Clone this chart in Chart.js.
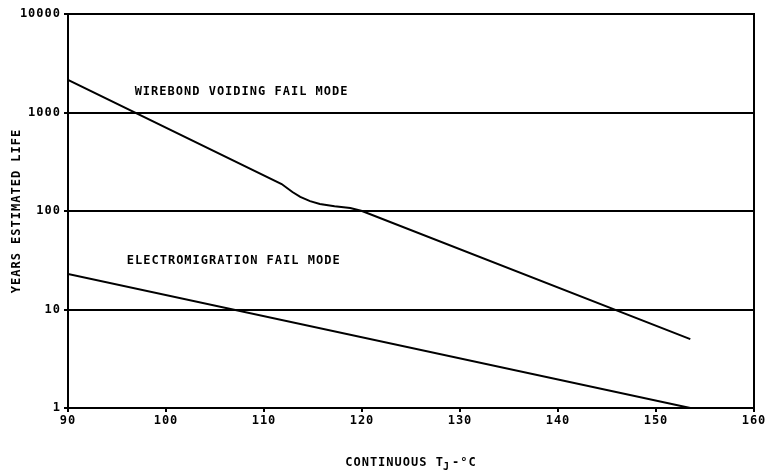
<!DOCTYPE html>
<html>
<head>
<meta charset="utf-8">
<script src="https://cdn.jsdelivr.net/npm/chart.js@4.4.1/dist/chart.umd.min.js"></script>
<style>
  html, body { margin: 0; padding: 0; background: #fff; }
  #wrap { width: 769px; height: 474px; }
</style>
</head>
<body>
<div id="wrap"><canvas id="lifeChart"></canvas></div>
<script>
// values
const wirebondTemp = [90, 111.8, 112.9, 113.7, 114.7, 115.7, 117.2, 118.8, 120, 153.5];
const wirebondYears = [2140, 188, 156, 139, 126, 118, 112, 107, 100, 5];
const emTemp = [90, 153.5];
const emYears = [22.9, 1];

const yTicks = [1, 10, 100, 1000, 10000];
const xTicks = [90, 100, 110, 120, 130, 140, 150, 160];

const noteTexts = ['WIREBOND VOIDING FAIL MODE', 'ELECTROMIGRATION FAIL MODE'];
const noteX = [96.8, 96.0];
const noteY = [1615, 31];

const xTitle = ['CONTINUOUS T', 'J', '-°C'];
const yTitle = 'YEARS ESTIMATED LIFE';

const FONT = 'bold 12px "DejaVu Sans Mono"';

function toPoints(xs, ys) {
    return xs.map((x, i) => ({ x: x, y: ys[i] }));
}

const extras = {
    id: 'extras',
    beforeDraw(chart) {
        chart.ctx.letterSpacing = '1px';
    },
    afterDraw(chart) {
        const ctx = chart.ctx;
        const area = chart.chartArea;
        const xs = chart.scales.x;
        const ys = chart.scales.y;
        ctx.save();
        ctx.letterSpacing = '1px';
        ctx.strokeStyle = '#000';
        ctx.lineWidth = 2;
        ctx.strokeRect(area.left, area.top, area.right - area.left, area.bottom - area.top);

        ctx.fillStyle = '#000';
        ctx.font = FONT;
        ctx.textBaseline = 'middle';
        ctx.textAlign = 'left';
        noteTexts.forEach((t, i) => {
            ctx.fillText(t, xs.getPixelForValue(noteX[i]), ys.getPixelForValue(noteY[i]));
        });

        // x title with subscript J
        const w0 = ctx.measureText(xTitle[0]).width;
        const w1 = ctx.measureText(xTitle[1]).width;
        const w2 = ctx.measureText(xTitle[2]).width;
        let x = (area.left + area.right) / 2 - (w0 + w1 + w2) / 2;
        const y = 463;
        ctx.fillText(xTitle[0], x, y);
        x += w0;
        ctx.font = 'bold 10px "DejaVu Sans Mono"';
        ctx.fillText(xTitle[1], x - 1, y + 4);
        ctx.font = FONT;
        x += w1;
        ctx.fillText(xTitle[2], x, y);

        // y title
        ctx.translate(17, (area.top + area.bottom) / 2);
        ctx.rotate(-Math.PI / 2);
        ctx.textAlign = 'center';
        ctx.fillText(yTitle, 0, 0);
        ctx.restore();
    }
};

new Chart(document.getElementById('lifeChart'), {
    type: 'line',
    data: {
        datasets: [
            {
                label: 'Wirebond voiding',
                data: toPoints(wirebondTemp, wirebondYears),
                borderColor: '#000',
                borderWidth: 2,
                pointRadius: 0,
                tension: 0
            },
            {
                label: 'Electromigration',
                data: toPoints(emTemp, emYears),
                borderColor: '#000',
                borderWidth: 2,
                pointRadius: 0,
                tension: 0
            }
        ]
    },
    options: {
        responsive: true,
        maintainAspectRatio: false,
        animation: false,
        layout: { padding: { top: 14, right: 15, left: 0, bottom: 0 } },
        plugins: {
            legend: { display: false },
            tooltip: { enabled: false }
        },
        scales: {
            x: {
                type: 'linear',
                min: 90,
                max: 160,
                afterBuildTicks: (s) => { s.ticks = xTicks.map(v => ({ value: v })); },
                afterFit: (s) => { s.height = 66; },
                grid: { drawOnChartArea: false, color: '#000', lineWidth: 2, tickLength: 4 },
                border: { color: '#000', width: 2 },
                ticks: { color: '#000', font: { family: 'DejaVu Sans Mono', size: 12, weight: 'bold' }, padding: 2, maxRotation: 0 }
            },
            y: {
                type: 'logarithmic',
                min: 1,
                max: 10000,
                afterBuildTicks: (s) => { s.ticks = yTicks.map(v => ({ value: v })); },
                afterFit: (s) => { s.width = 68; },
                grid: { color: '#000', lineWidth: 2, tickLength: 4 },
                border: { color: '#000', width: 2 },
                ticks: {
                    color: '#000',
                    font: { family: 'DejaVu Sans Mono', size: 12, weight: 'bold' },
                    padding: 3,
                    callback: (v) => String(v)
                }
            }
        }
    },
    plugins: [extras]
});
</script>
</body>
</html>
